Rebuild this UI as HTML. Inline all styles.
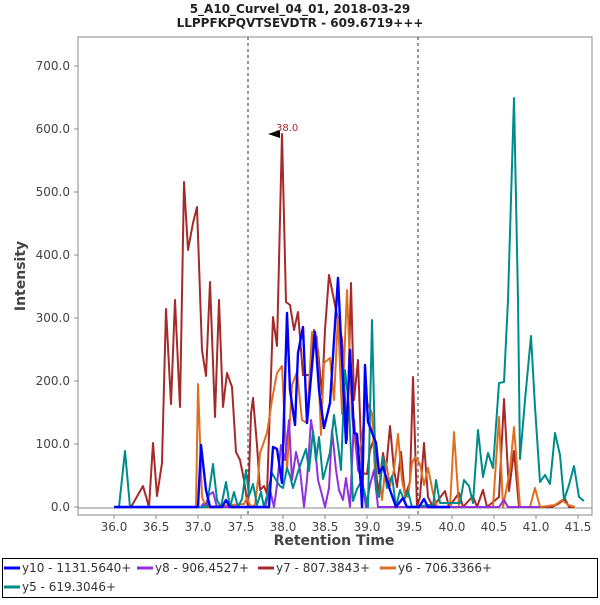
<!DOCTYPE html><html><head><style>body{margin:0;background:#fff}svg{font-family:"DejaVu Sans","Liberation Sans",sans-serif}</style></head><body>
<svg width="600" height="600" xmlns="http://www.w3.org/2000/svg">
<rect width="600" height="600" fill="#fff"/>
<text x="300" y="13" text-anchor="middle" font-size="12" font-weight="bold" fill="#222">5_A10_Curvel_04_01, 2018-03-29</text>
<text x="300" y="27" text-anchor="middle" font-size="12" font-weight="bold" fill="#222">LLPPFKPQVTSEVDTR - 609.6719+++</text>
<rect x="78" y="37" width="514" height="478" fill="#fff" stroke="#888"/>
<line x1="78" y1="508" x2="592" y2="508" stroke="#888"/>
<g font-size="12" fill="#444" text-anchor="end">
<text x="70" y="511">0.0</text><text x="70" y="448">100.0</text><text x="70" y="385">200.0</text><text x="70" y="322">300.0</text><text x="70" y="259">400.0</text><text x="70" y="196">500.0</text><text x="70" y="133">600.0</text><text x="70" y="70">700.0</text>
</g>
<g stroke="#888"><line x1="74" y1="507" x2="78" y2="507"/><line x1="74" y1="444" x2="78" y2="444"/><line x1="74" y1="381" x2="78" y2="381"/><line x1="74" y1="318" x2="78" y2="318"/><line x1="74" y1="255" x2="78" y2="255"/><line x1="74" y1="192" x2="78" y2="192"/><line x1="74" y1="129" x2="78" y2="129"/><line x1="74" y1="66" x2="78" y2="66"/>
<line x1="114" y1="515" x2="114" y2="519"/><line x1="156" y1="515" x2="156" y2="519"/><line x1="198" y1="515" x2="198" y2="519"/><line x1="241" y1="515" x2="241" y2="519"/><line x1="283" y1="515" x2="283" y2="519"/><line x1="325" y1="515" x2="325" y2="519"/><line x1="367" y1="515" x2="367" y2="519"/><line x1="409" y1="515" x2="409" y2="519"/><line x1="452" y1="515" x2="452" y2="519"/><line x1="494" y1="515" x2="494" y2="519"/><line x1="536" y1="515" x2="536" y2="519"/><line x1="578" y1="515" x2="578" y2="519"/></g>
<g font-size="12" fill="#444" text-anchor="middle">
<text x="114" y="531">36.0</text><text x="156" y="531">36.5</text><text x="198" y="531">37.0</text><text x="241" y="531">37.5</text><text x="283" y="531">38.0</text><text x="325" y="531">38.5</text><text x="367" y="531">39.0</text><text x="409" y="531">39.5</text><text x="452" y="531">40.0</text><text x="494" y="531">40.5</text><text x="536" y="531">41.0</text><text x="578" y="531">41.5</text>
</g>
<text x="334" y="545" text-anchor="middle" font-size="14" font-weight="bold" fill="#444">Retention Time</text>
<text transform="translate(25,276) rotate(-90)" text-anchor="middle" font-size="14" font-weight="bold" fill="#444">Intensity</text>
<line x1="248" y1="37" x2="248" y2="515" stroke="#333" stroke-dasharray="3,3"/>
<line x1="418" y1="37" x2="418" y2="515" stroke="#333" stroke-dasharray="3,3"/>
<g fill="none" stroke-width="2" stroke-linejoin="round">
<polyline stroke="#a52a2a" points="114,507 131,507 143,486 149,507 153,443 157,496 162,463 166,309 171,404 175,300 180,407 184,182 188,250 193,223 197,207 202,350 206,376 210,282 215,417 219,300 223,407 227,373 232,387 236,452 240,460 244,480 248,507 251,414 253,398 257,445 260,490 264,486 267,494 273,317 277,346 282,134 286,302 290,305 294,330 298,312 303,375 310,375 314,330 318,350 322,395 325,330 329,275 335,305 342,339 347,440 351,283 354,400 358,360 362,473 367,474 370,450 374,439 378,496 383,453 386,470 390,426 394,470 397,487 401,452 405,496 410,482 413,377 417,507 420,497 424,443 428,497 433,507 445,491 449,507 459,493 463,507 473,496 477,507 483,490 487,507 499,497 504,399 509,491 514,451 519,507 552,507 558,504 565,499 569,507 575,507"/>
<polyline stroke="#e07020" points="180,507 196,507 198,384 202,497 206,507 244,504 247,498 251,507 255,505 258,480 260,453 267,433 272,400 277,373 282,366 287,470 292,385 297,372 302,420 307,423 312,332 317,337 321,435 324,363 330,358 334,400 338,316 342,414 347,290 352,417 357,457 362,440 366,400 372,413 375,473 378,460 382,500 386,462 390,486 394,470 398,434 402,480 405,495 408,497 412,463 415,457 420,464 424,485 428,468 433,493 437,507 450,507 454,432 459,507 493,507 499,417 503,507 510,470 514,427 520,507 530,507 535,488 540,507 555,505 562,500 568,505 575,507"/>
<polyline stroke="#9030e0" points="114,507 201,507 203,504 205,507 209,495 213,492 217,507 265,507 270,490 274,507 277,485 281,445 285,460 289,420 292,480 296,452 300,470 304,507 307,480 311,420 315,445 318,480 322,495 325,507 329,488 332,430 336,470 339,490 343,500 346,478 350,507 354,420 358,470 362,478 366,507 370,485 374,470 378,507 499,507 504,500 508,507 540,507"/>
<polyline stroke="#008b8b" points="114,507 119,507 125,451 130,507 204,507 207,507 209,492 213,464 217,500 221,507 226,482 230,507 234,492 238,507 242,499 246,470 249,496 253,484 257,505 261,492 264,507 268,492 272,473 276,480 280,486 283,488 287,468 290,476 293,488 297,475 302,460 306,449 309,471 313,431 316,461 319,437 323,479 326,468 330,452 334,415 338,445 341,470 345,370 349,407 353,501 357,489 361,482 364,490 368,507 372,320 376,490 379,497 383,457 387,488 392,476 396,507 400,490 404,500 408,491 412,507 430,505 433,507 436,480 440,503 460,503 464,480 469,486 473,503 478,430 483,477 488,453 493,468 499,383 504,382 508,300 514,98 518,300 520,459 525,400 531,336 535,407 540,482 545,475 550,484 555,433 560,455 564,500 569,485 574,466 579,497 584,501"/>
<polyline stroke="#0000ff" stroke-width="2.4" points="114,507 198,507 201,445 206,490 210,507 222,507 226,500 230,507 269,507 273,447 277,449 282,483 287,313 290,390 295,425 298,353 303,327 307,423 315,332 319,390 324,428 330,403 338,278 342,360 346,443 350,350 354,433 357,434 361,487 362,507 365,365 368,422 376,443 379,473 383,467 390,490 396,507 403,498 407,507 419,507 424,499 428,507 450,507"/>
</g>
<polygon points="268,134 280,130 280,138" fill="#000"/>
<text x="276" y="131" font-size="10" fill="#a52a2a">38.0</text>
<rect x="2.5" y="558.5" width="595" height="39" fill="#fff" stroke="#000"/>
<g font-size="12" fill="#333">
<line x1="4" y1="568" x2="20" y2="568" stroke="#0000ff" stroke-width="3"/><text x="22" y="572">y10 - 1131.5640+</text>
<line x1="137" y1="568" x2="153" y2="568" stroke="#9030e0" stroke-width="3"/><text x="155" y="572">y8 - 906.4527+</text>
<line x1="258" y1="568" x2="274" y2="568" stroke="#a52a2a" stroke-width="3"/><text x="276" y="572">y7 - 807.3843+</text>
<line x1="380" y1="568" x2="396" y2="568" stroke="#e07020" stroke-width="3"/><text x="398" y="572">y6 - 706.3366+</text>
<line x1="4" y1="587" x2="20" y2="587" stroke="#008b8b" stroke-width="3"/><text x="22" y="591">y5 - 619.3046+</text>
</g>
</svg>
</body></html>
